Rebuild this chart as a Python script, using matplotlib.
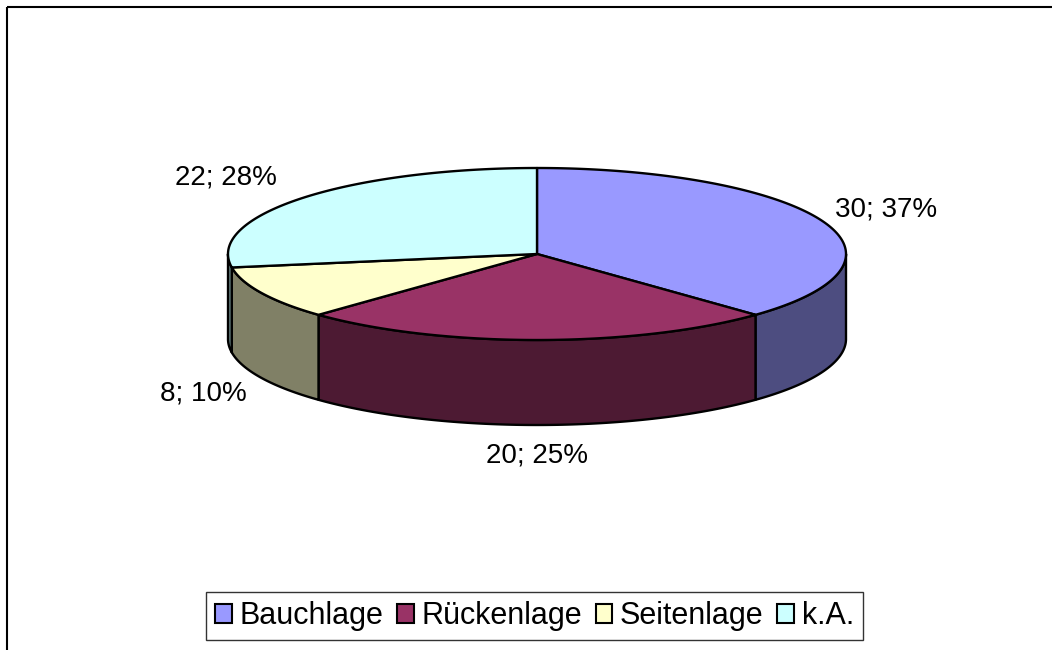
import numpy as np
import matplotlib
matplotlib.use("Agg")
import matplotlib.pyplot as plt
from matplotlib.patches import Polygon, Patch

labels = ["Bauchlage", "Rückenlage", "Seitenlage", "k.A."]
values = [30, 20, 8, 22]
percents = [37, 25, 10, 28]
top_colors = ["#9999FF", "#993366", "#FFFFCC", "#CCFFFF"]
side_colors = ["#4D4D80", "#4D1A33", "#808066", "#668080"]

# pie geometry in pixel units (y grows downward)
CX, CY, RX, RY, DEPTH = 537, 254, 309, 86, 85
label_pos = [(886, 210), (537, 455), (203, 393), (226, 178)]

plt.rcParams["font.family"] = ["Liberation Sans", "DejaVu Sans"]


def arc(t1, t2, dy=0, n=200):
    t = np.linspace(t1, t2, n)
    return np.column_stack([CX + RX * np.sin(t), CY - RY * np.cos(t) + dy])


fig = plt.figure(figsize=(10.52, 6.5), dpi=100)
ax = fig.add_axes([0, 0, 1, 1])
ax.set_xlim(0, 1052)
ax.set_ylim(650, 0)
ax.axis("off")

# outer chart frame (only top and left edges fall inside the picture)
ax.plot([7, 1052], [7, 7], color="black", lw=1.5, solid_capstyle="butt")
ax.plot([7, 7], [7, 650], color="black", lw=1.5, solid_capstyle="butt")

total = sum(values)
bounds = np.concatenate([[0], np.cumsum(values)]) / total * 2 * np.pi

# side walls of the front half
for i in range(len(values)):
    lo = max(bounds[i], np.pi / 2)
    hi = min(bounds[i + 1], 3 * np.pi / 2)
    if hi <= lo:
        continue
    pts = np.vstack([arc(lo, hi), arc(hi, lo, DEPTH)])
    ax.add_patch(Polygon(pts, closed=True, facecolor=side_colors[i],
                         edgecolor="black", lw=1.7, joinstyle="round"))

# top faces
for i in range(len(values)):
    pts = np.vstack([[CX, CY], arc(bounds[i], bounds[i + 1])])
    ax.add_patch(Polygon(pts, closed=True, facecolor=top_colors[i],
                         edgecolor="black", lw=1.7, joinstyle="round"))

for v, p, (x, y) in zip(values, percents, label_pos):
    ax.text(x, y, f"{v}; {p}%", fontsize=20, ha="center", va="center")

handles = [Patch(facecolor=c, edgecolor="black", lw=1.5) for c in top_colors]
leg = fig.legend(handles, labels, loc="center", bbox_to_anchor=(0.508, 0.052),
                 ncol=4, fontsize=22, frameon=True, fancybox=False,
                 edgecolor="black", handlelength=0.55, handleheight=0.55,
                 handletextpad=0.25, columnspacing=0.45, borderpad=0.3)
leg.get_frame().set_linewidth(1.0)

fig.savefig("out.png", dpi=100)
